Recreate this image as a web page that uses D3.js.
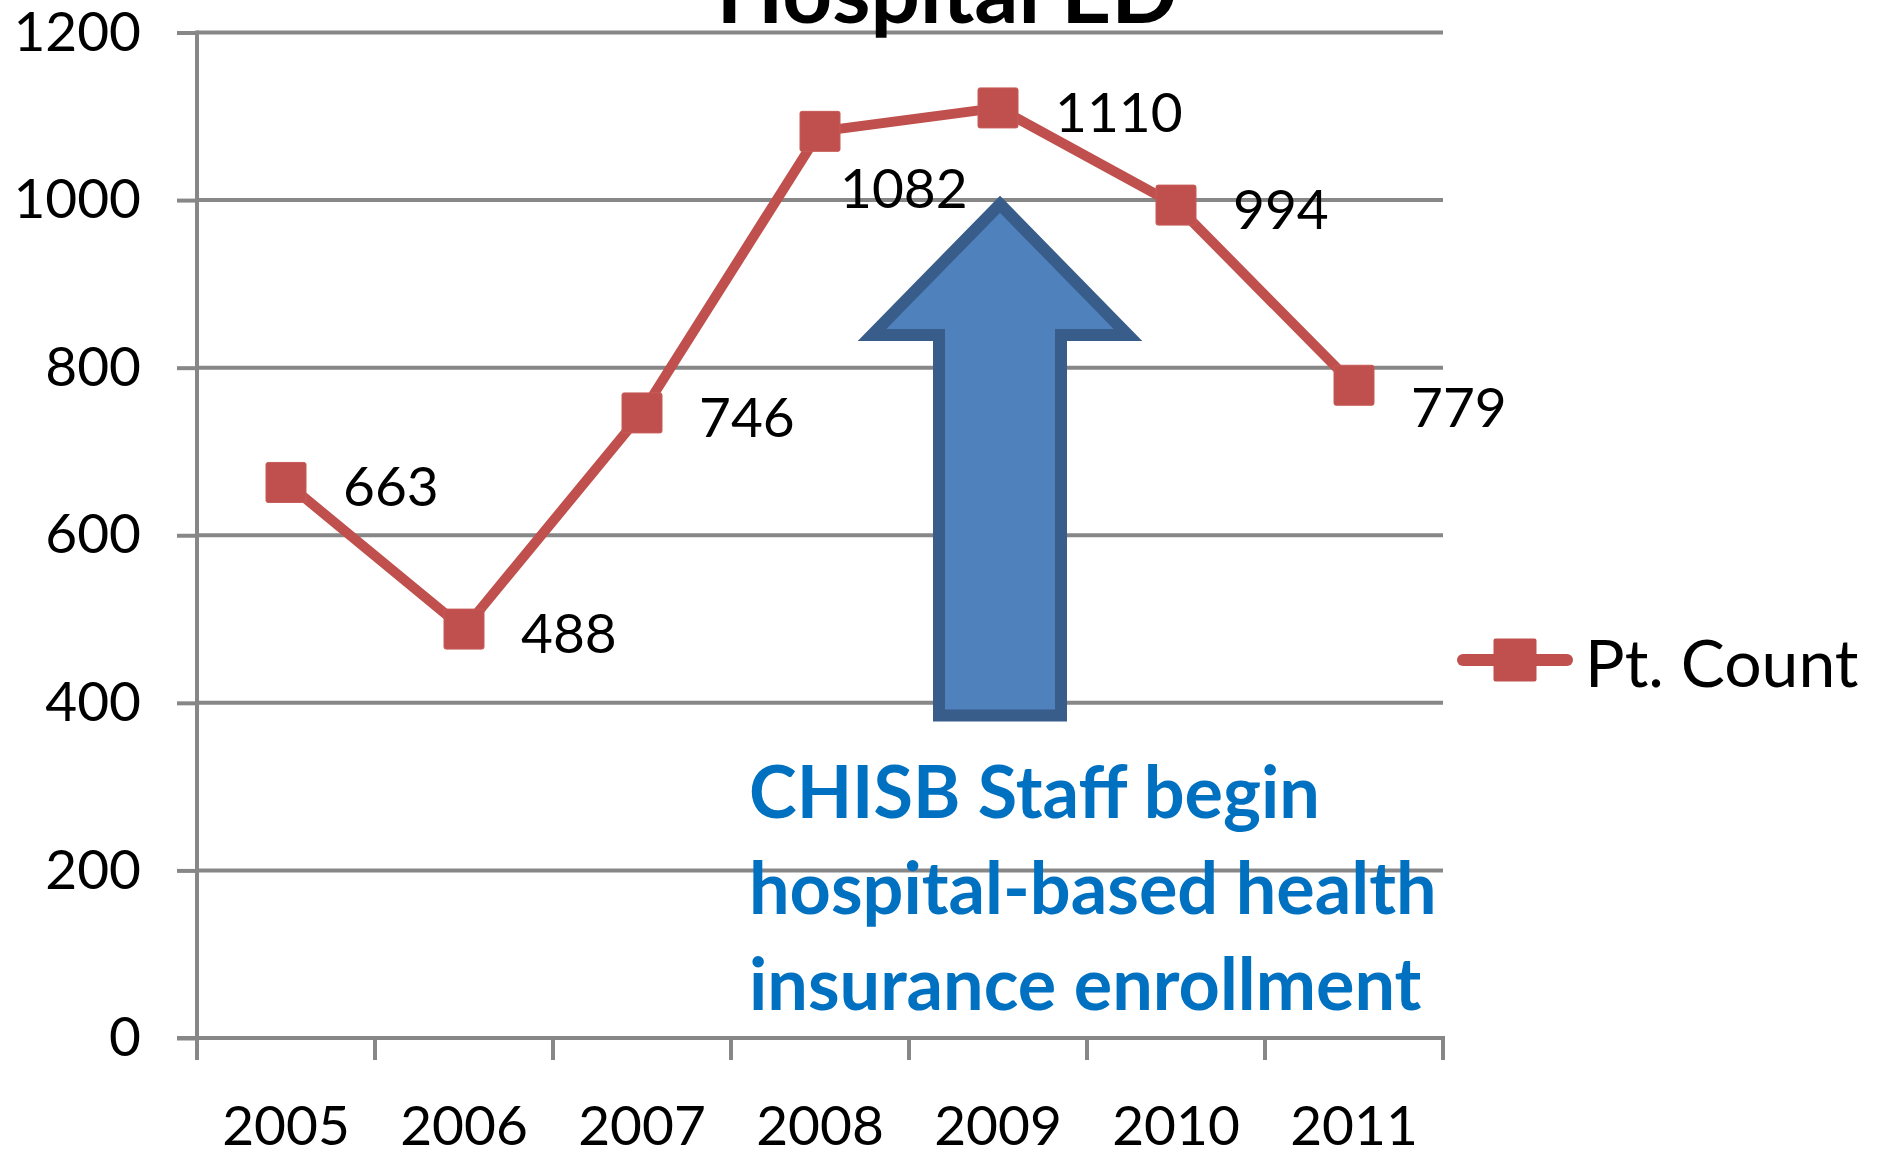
<!DOCTYPE html>
<html>
<head>
<meta charset="utf-8">
<script src="https://cdn.jsdelivr.net/npm/d3@7"></script>
<style>
    html, body { margin: 0; padding: 0; background: #fff; }
    svg { display: block; font-family: Lato, 'Open Sans', sans-serif; }
</style>
</head>
<body>
<div id="chart"></div>
<script>
const years = ['2005', '2006', '2007', '2008', '2009', '2010', '2011']
const ptCount = [663, 488, 746, 1082, 1110, 994, 779]
const yTicks = [0, 200, 400, 600, 800, 1000, 1200]
const seriesName = 'Pt. Count'
const chartTitle = 'Hospital ED'
const noteLines = ['CHISB Staff begin', 'hospital-based health', 'insurance enrollment']

const width = 1886
const height = 1154
const margin = { top: 32.5, right: 443, bottom: 116, left: 197 }
const red = '#C0504D'
const grid = '#878787'

const svg = d3.select('#chart').append('svg')
    .attr('width', width).attr('height', height)

svg.append('rect').attr('width', width).attr('height', height).attr('fill', '#fff')

const x = d3.scaleBand()
    .domain(years)
    .range([margin.left, width - margin.right])
    .padding(0)

const y = d3.scaleLinear()
    .domain([0, 1200])
    .range([height - margin.bottom, margin.top])

// Gridlines
svg.selectAll('.grid-line')
    .data(yTicks.filter(d => d > 0)).enter()
    .append('line')
    .attr('x1', margin.left).attr('x2', width - margin.right)
    .attr('y1', d => y(d)).attr('y2', d => y(d))
    .attr('stroke', grid).attr('stroke-width', 4)

// Y axis
const yAxis = svg.append('g')
    .attr('transform', `translate(${margin.left},0)`)
    .call(d3.axisLeft(y).tickValues(yTicks).tickFormat(d3.format('d')).tickSize(20).tickPadding(36))
yAxis.select('.domain').remove()
yAxis.selectAll('.tick line').attr('stroke', grid).attr('stroke-width', 4)
yAxis.selectAll('text').attr('fill', '#000').attr('font-size', '55px').attr('font-family', 'Lato')

svg.append('line')
    .attr('x1', margin.left).attr('x2', margin.left)
    .attr('y1', y(1200) - 2).attr('y2', y(0) + 22)
    .attr('stroke', grid).attr('stroke-width', 4)

// X axis with ticks between categories
svg.append('line')
    .attr('x1', margin.left - 20).attr('x2', width - margin.right + 2)
    .attr('y1', y(0)).attr('y2', y(0))
    .attr('stroke', grid).attr('stroke-width', 4)

const edges = years.map(d => x(d)).concat([x(years[years.length - 1]) + x.bandwidth()])
svg.selectAll('.x-tick')
    .data(edges.slice(1)).enter()
    .append('line')
    .attr('x1', d => d).attr('x2', d => d)
    .attr('y1', y(0)).attr('y2', y(0) + 22)
    .attr('stroke', grid).attr('stroke-width', 4)

svg.selectAll('.x-label')
    .data(years).enter()
    .append('text')
    .attr('x', d => x(d) + x.bandwidth() / 2)
    .attr('y', y(0) + 107)
    .attr('text-anchor', 'middle')
    .attr('font-size', '55px')
    .attr('fill', '#000')
    .text(d => d)

// Title (cut at the top edge, as in the original slide)
svg.append('text')
    .attr('x', 947).attr('y', 23)
    .attr('text-anchor', 'middle')
    .attr('font-size', '87px').attr('font-weight', 700)
    .attr('fill', '#000')
    .text(chartTitle)

// Annotation arrow
const ax = x('2009') + x.bandwidth() / 2 + 2
const tipY = y(995)
const headY = y(839)
const baseY = y(385)
const headW = 128
const shaftW = 61
svg.append('path')
    .attr('d', `M${ax},${tipY} L${ax + headW},${headY} L${ax + shaftW},${headY} L${ax + shaftW},${baseY}
        L${ax - shaftW},${baseY} L${ax - shaftW},${headY} L${ax - headW},${headY} Z`)
    .attr('fill', '#4F81BD')
    .attr('stroke', '#385D8A').attr('stroke-width', 12)
    .attr('stroke-linejoin', 'miter')

svg.selectAll('.note')
    .data(noteLines).enter()
    .append('text')
    .attr('x', 749)
    .attr('y', (d, i) => 818 + i * 96)
    .attr('font-size', '72px').attr('font-weight', 700)
    .attr('fill', '#0070C0')
    .text(d => d)

// Series line
const data = years.map((yr, i) => ({ year: yr, value: ptCount[i] }))
const cx = d => x(d.year) + x.bandwidth() / 2

svg.append('path')
    .datum(data)
    .attr('d', d3.line().x(cx).y(d => y(d.value)))
    .attr('fill', 'none')
    .attr('stroke', red).attr('stroke-width', 10)
    .attr('stroke-linejoin', 'round')

const markerSize = 40
svg.selectAll('.marker')
    .data(data).enter()
    .append('rect')
    .attr('x', d => cx(d) - markerSize / 2)
    .attr('y', d => y(d.value) - markerSize / 2)
    .attr('width', markerSize).attr('height', markerSize)
    .attr('rx', 2)
    .attr('fill', red)
    .attr('stroke', '#C75B58').attr('stroke-width', 1)

// Data labels: right of the point, 2008 sits below, 2011 a bit lower
const labelShift = { '2008': [20, 57], '2011': [57, 22] }
svg.selectAll('.value-label')
    .data(data).enter()
    .append('text')
    .attr('x', d => cx(d) + (labelShift[d.year] ? labelShift[d.year][0] : 57))
    .attr('y', d => y(d.value) + (labelShift[d.year] ? labelShift[d.year][1] : 4))
    .attr('dy', '0.36em')
    .attr('font-size', '55px')
    .attr('fill', '#000')
    .text(d => d.value)

// Legend
const legend = svg.append('g').attr('transform', 'translate(1457,660)')
legend.append('line')
    .attr('x1', 6).attr('x2', 110)
    .attr('stroke', red).attr('stroke-width', 12)
    .attr('stroke-linecap', 'round')
legend.append('rect')
    .attr('x', 58 - 21.5).attr('y', -21.5)
    .attr('width', 43).attr('height', 43)
    .attr('rx', 2)
    .attr('fill', red)
legend.append('text')
    .attr('x', 128).attr('y', 27)
    .attr('font-size', '66px')
    .attr('fill', '#000')
    .text(seriesName)
</script>
</body>
</html>
